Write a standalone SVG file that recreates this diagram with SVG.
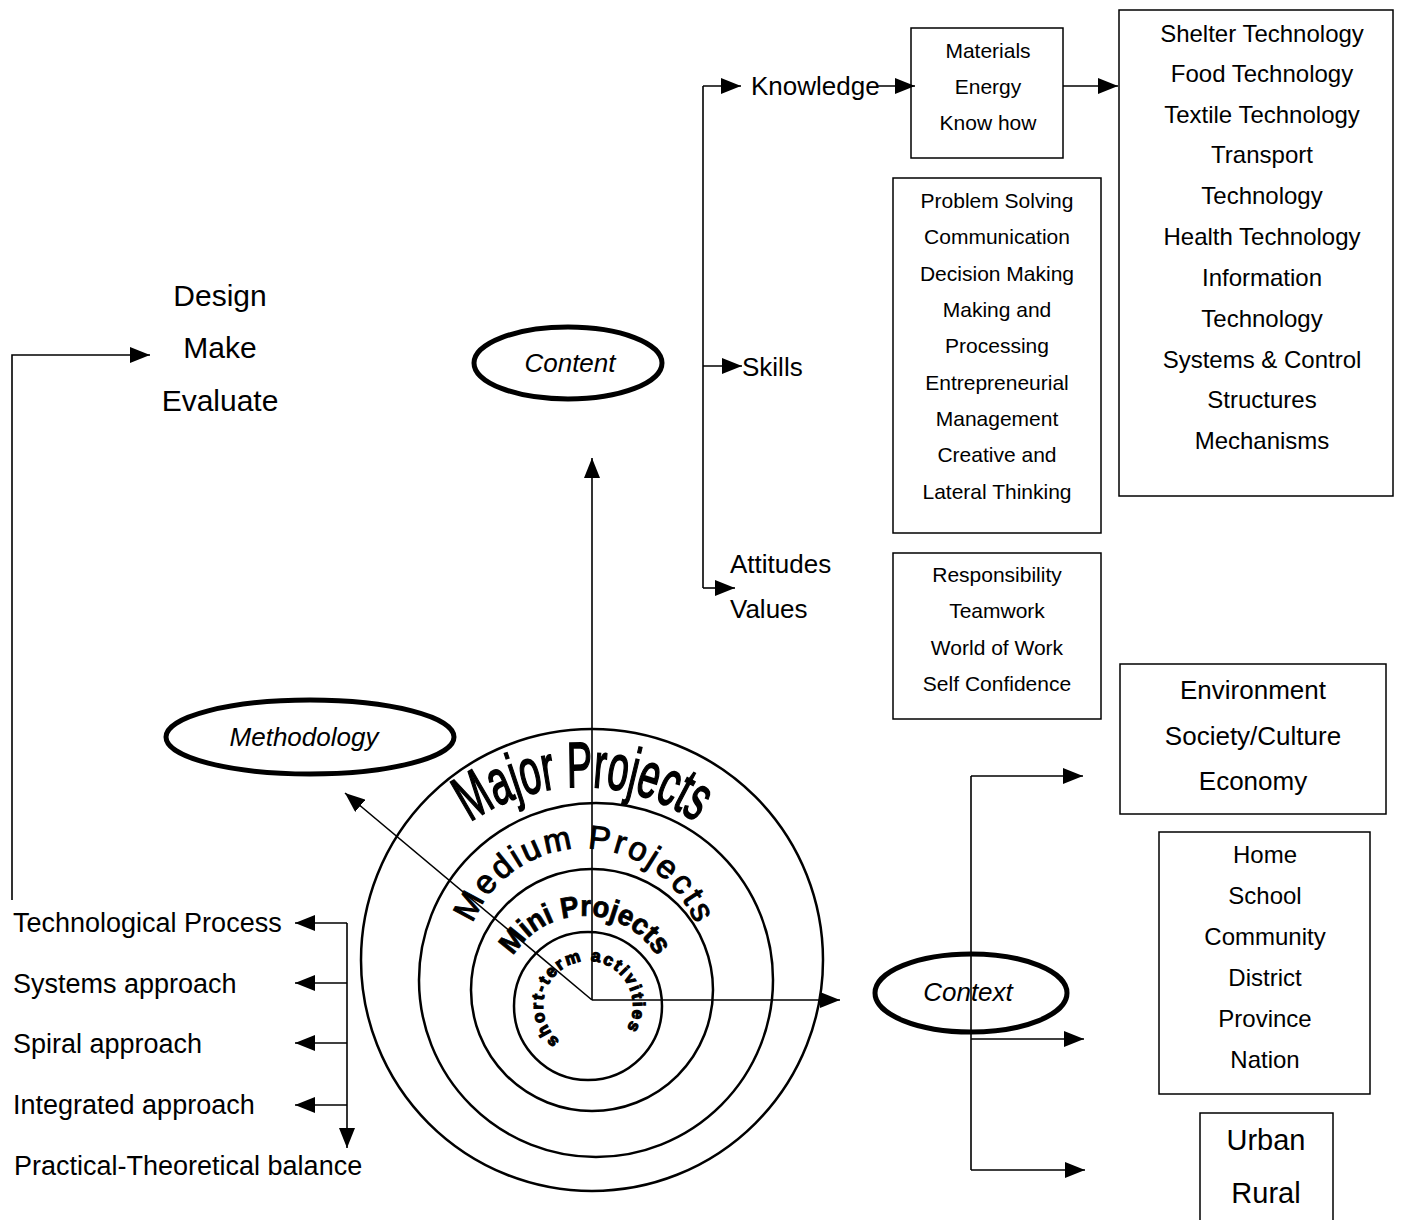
<svg xmlns="http://www.w3.org/2000/svg" xmlns:xlink="http://www.w3.org/1999/xlink" width="1412" height="1220" viewBox="0 0 1412 1220">
<style>
  text { font-family: "Liberation Sans", Arial, sans-serif; fill: #000; }
  .lbl { font-size: 26px; }
  .lst { font-size: 27px; }
  .big { font-size: 30px; }
  .it { font-size: 26px; font-style: italic; }
  .b21 { font-size: 21px; text-anchor: middle; }
  .b24 { font-size: 24px; text-anchor: middle; }
  .b26 { font-size: 26px; text-anchor: middle; }
  .b29 { font-size: 29px; text-anchor: middle; }
  .box { fill: none; stroke: #000; stroke-width: 1.5; }
  .ell { fill: #fff; stroke: #000; stroke-width: 5; }
  .ring { fill: none; stroke: #000; stroke-width: 2.5; }
  .con { fill: none; stroke: #000; stroke-width: 1.6; }
  .arw { fill: none; stroke: #000; stroke-width: 1.6; marker-end: url(#ah); }
</style>
<defs>
  <marker id="ah" markerUnits="userSpaceOnUse" markerWidth="20" markerHeight="16" refX="20" refY="8" orient="auto">
    <path d="M0,0 L20,8 L0,16 z" fill="#000"/>
  </marker>
  <path id="pMajor" d="M388,950.6 A198,198 0 0 1 778,950.6"/>
  <path id="pMedium" d="M464.5,957.5 A120,120 0 0 1 703.5,957.5"/>
  <path id="pMini" d="M501.3,992.7 A84,84 0 0 1 668.7,992.7"/>
  <path id="pInner" d="M559.7,1041.0 A45,45 0 1 1 615.7,1041.5"/>
</defs>
<rect width="1412" height="1220" fill="#fff"/>

<g id="connectors">
  <polyline class="arw" points="12,900 12,355 150,355"/>
  <line class="arw" x1="347" y1="923" x2="347" y2="1148"/>
  <line class="arw" x1="347" y1="923" x2="295" y2="923"/>
  <line class="arw" x1="347" y1="983" x2="295" y2="983"/>
  <line class="arw" x1="347" y1="1043" x2="295" y2="1043"/>
  <line class="arw" x1="347" y1="1105" x2="295" y2="1105"/>
  <line class="arw" x1="592" y1="1000" x2="592" y2="458"/>
  <line class="arw" x1="592" y1="1000" x2="840" y2="1000"/>
  <line class="arw" x1="592" y1="1000" x2="345" y2="793"/>
  <line class="con" x1="703" y1="86" x2="703" y2="588"/>
  <line class="arw" x1="703" y1="86" x2="741" y2="86"/>
  <line class="arw" x1="703" y1="366" x2="742" y2="366"/>
  <line class="arw" x1="703" y1="588" x2="735" y2="588"/>
  <line class="arw" x1="878" y1="86" x2="915" y2="86"/>
  <line class="arw" x1="1063" y1="86" x2="1118" y2="86"/>
  <line class="con" x1="971" y1="776" x2="971" y2="1170"/>
  <line class="arw" x1="971" y1="776" x2="1083" y2="776"/>
  <line class="arw" x1="971" y1="1039" x2="1084" y2="1039"/>
  <line class="arw" x1="971" y1="1170" x2="1085" y2="1170"/>
</g>

<g id="node-dme">
  <text class="big" x="220" y="306" text-anchor="middle">Design</text>
  <text class="big" x="220" y="358" text-anchor="middle">Make</text>
  <text class="big" x="220" y="411" text-anchor="middle">Evaluate</text>
</g>

<g id="node-content">
  <ellipse class="ell" cx="568" cy="363" rx="94" ry="36"/>
  <text class="it" x="570" y="372" text-anchor="middle">Content</text>
</g>

<g id="node-methodology">
  <ellipse class="ell" cx="310" cy="737" rx="144" ry="37"/>
  <text class="it" x="304" y="746" text-anchor="middle">Methodology</text>
</g>

<g id="node-context">
  <ellipse class="ell" cx="971" cy="993" rx="96" ry="39"/>
  <text class="it" x="968" y="1001" text-anchor="middle">Context</text>
  <line class="con" x1="971" y1="953" x2="971" y2="1033"/>
</g>

<g id="node-methods">
  <text class="lst" x="13" y="932">Technological Process</text>
  <text class="lst" x="13" y="993">Systems approach</text>
  <text class="lst" x="13" y="1053">Spiral approach</text>
  <text class="lst" x="13" y="1114">Integrated approach</text>
  <text class="lst" x="14" y="1175">Practical-Theoretical balance</text>
</g>

<g id="node-knowledge"><text class="lbl" x="751" y="95">Knowledge</text></g>
<g id="node-skills"><text class="lbl" x="742" y="376">Skills</text></g>
<g id="node-attitudes">
  <text class="lbl" x="730" y="573">Attitudes</text>
  <text class="lbl" x="730" y="618">Values</text>
</g>

<g id="node-materials">
  <rect class="box" x="911" y="28" width="152" height="130"/>
  <text class="b21" x="988" y="58">Materials</text>
  <text class="b21" x="988" y="94">Energy</text>
  <text class="b21" x="988" y="130">Know how</text>
</g>

<g id="node-technology">
  <rect class="box" x="1119" y="10" width="274" height="486"/>
  <text class="b24" x="1262" y="42">Shelter Technology</text>
  <text class="b24" x="1262" y="82">Food Technology</text>
  <text class="b24" x="1262" y="123">Textile Technology</text>
  <text class="b24" x="1262" y="163">Transport</text>
  <text class="b24" x="1262" y="204">Technology</text>
  <text class="b24" x="1262" y="245">Health Technology</text>
  <text class="b24" x="1262" y="286">Information</text>
  <text class="b24" x="1262" y="327">Technology</text>
  <text class="b24" x="1262" y="368">Systems &amp; Control</text>
  <text class="b24" x="1262" y="408">Structures</text>
  <text class="b24" x="1262" y="449">Mechanisms</text>
</g>

<g id="node-skillsbox">
  <rect class="box" x="893" y="178" width="208" height="355"/>
  <text class="b21" x="997" y="208">Problem Solving</text>
  <text class="b21" x="997" y="244">Communication</text>
  <text class="b21" x="997" y="281">Decision Making</text>
  <text class="b21" x="997" y="317">Making and</text>
  <text class="b21" x="997" y="353">Processing</text>
  <text class="b21" x="997" y="390">Entrepreneurial</text>
  <text class="b21" x="997" y="426">Management</text>
  <text class="b21" x="997" y="462">Creative and</text>
  <text class="b21" x="997" y="499">Lateral Thinking</text>
</g>

<g id="node-valuesbox">
  <rect class="box" x="893" y="553" width="208" height="166"/>
  <text class="b21" x="997" y="582">Responsibility</text>
  <text class="b21" x="997" y="618">Teamwork</text>
  <text class="b21" x="997" y="655">World of Work</text>
  <text class="b21" x="997" y="691">Self Confidence</text>
</g>

<g id="node-envbox">
  <rect class="box" x="1120" y="664" width="266" height="150"/>
  <text class="b26" x="1253" y="699">Environment</text>
  <text class="b26" x="1253" y="745">Society/Culture</text>
  <text class="b26" x="1253" y="790">Economy</text>
</g>

<g id="node-homebox">
  <rect class="box" x="1159" y="832" width="211" height="262"/>
  <text class="b24" x="1265" y="863">Home</text>
  <text class="b24" x="1265" y="904">School</text>
  <text class="b24" x="1265" y="945">Community</text>
  <text class="b24" x="1265" y="986">District</text>
  <text class="b24" x="1265" y="1027">Province</text>
  <text class="b24" x="1265" y="1068">Nation</text>
</g>

<g id="node-urbanbox">
  <polyline class="box" points="1200,1220 1200,1113 1333,1113 1333,1220"/>
  <text class="b29" x="1266" y="1150">Urban</text>
  <text class="b29" x="1266" y="1203">Rural</text>
</g>

<g id="node-projects">
  <circle class="ring" cx="592" cy="960" r="231"/>
  <circle class="ring" cx="596" cy="980" r="177"/>
  <circle class="ring" cx="592" cy="990" r="121"/>
  <circle class="ring" cx="588" cy="1006" r="74"/>
  <text font-size="64" textLength="240" lengthAdjust="spacingAndGlyphs" text-anchor="middle" stroke="#000" stroke-width="1.8"><textPath href="#pMajor" xlink:href="#pMajor" startOffset="50%">Major Projects</textPath></text>
  <text font-size="33" textLength="285" text-anchor="middle" stroke="#000" stroke-width="1"><textPath href="#pMedium" xlink:href="#pMedium" startOffset="50%">Medium Projects</textPath></text>
  <text font-size="29" font-weight="bold" textLength="172" lengthAdjust="spacingAndGlyphs" text-anchor="middle" stroke="#000" stroke-width="0.8"><textPath href="#pMini" xlink:href="#pMini" startOffset="50%">Mini Projects</textPath></text>
  <text font-size="17" font-weight="bold" textLength="205" stroke="#000" stroke-width="1.2"><textPath href="#pInner" xlink:href="#pInner">short-term activities</textPath></text>
</g>
</svg>
